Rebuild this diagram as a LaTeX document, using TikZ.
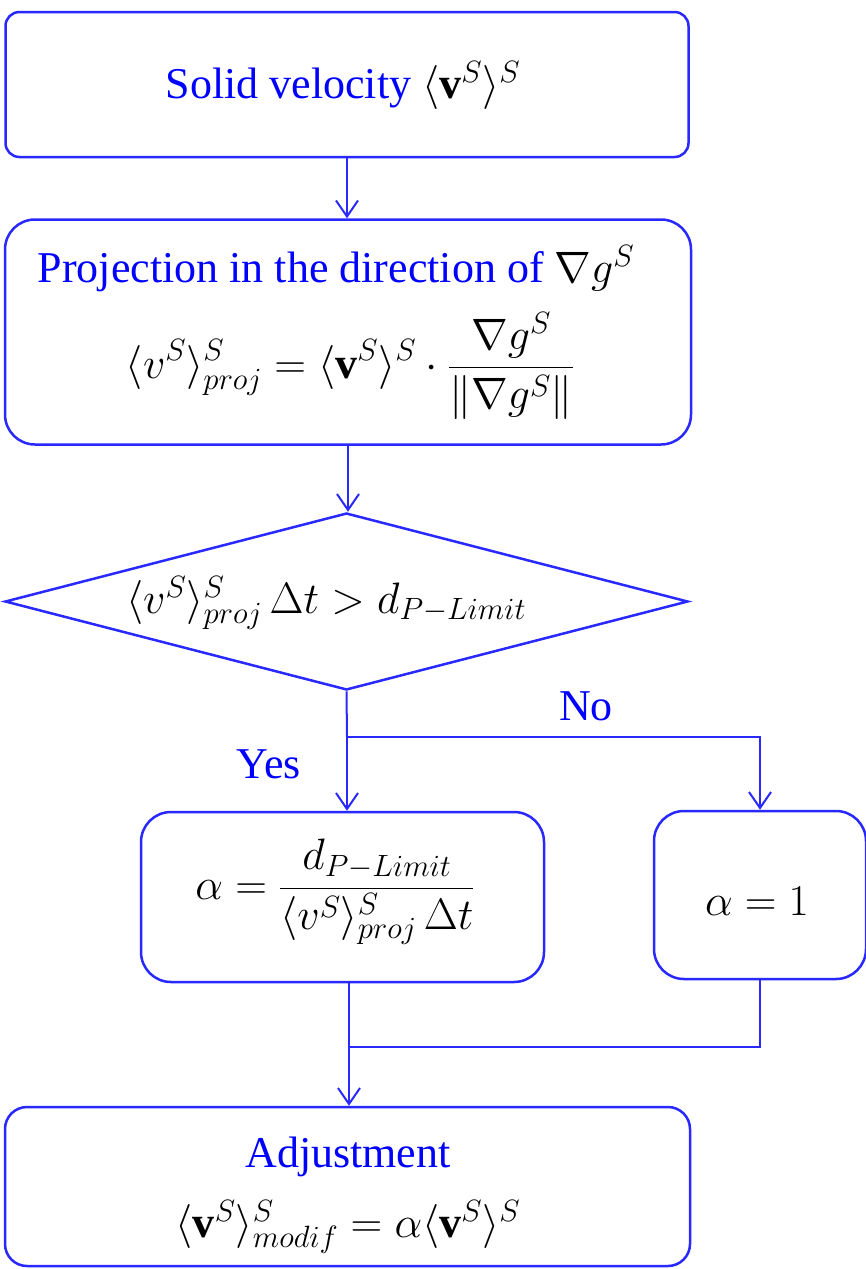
\RequirePackage{fix-cm}
\documentclass[tikz,border=0pt]{standalone}
\usepackage{amsmath}
\usepackage{fontspec}
\setmainfont{Liberation Serif}
\usetikzlibrary{arrows.meta,shapes.geometric}
\definecolor{lineblue}{RGB}{40,40,255}
\definecolor{txtblue}{RGB}{0,0,255}
\begin{document}
\begin{tikzpicture}[x=1pt,y=-1pt,
  box/.style={draw=lineblue, line width=2.5pt, fill=white, inner sep=0pt},
  arr/.style={draw=lineblue, line width=2pt, -{Straight Barb[length=16pt,width=22pt,line width=2pt]}},
  ln/.style={draw=lineblue, line width=2pt},
  lbl/.style={text=txtblue, font=\fontsize{44}{50}\selectfont, inner sep=0pt},
  mth/.style={text=black, font=\fontsize{44}{50}\selectfont, inner sep=0pt}]
\useasboundingbox (0,0) rectangle (865,1269);
% boxes
\node[box, rounded corners=14pt, minimum width=683pt, minimum height=145pt] (b1) at (347,84.5) {};
\node[box, rounded corners=30pt, minimum width=686pt, minimum height=225pt] (b2) at (348,332) {};
\node[box, diamond, aspect=3.86, minimum width=683pt, minimum height=177pt] (d) at (346.5,601.5) {};
\node[box, rounded corners=30pt, minimum width=403pt, minimum height=170pt] (b3) at (342.5,897) {};
\node[box, rounded corners=30pt, minimum width=212pt, minimum height=168pt] (b4) at (760,895) {};
\node[box, rounded corners=22pt, minimum width=685pt, minimum height=159pt] (b5) at (347.5,1186.5) {};
% texts
\node[lbl, anchor=base] (t1) at (343,98) {Solid velocity \textcolor{black}{$\langle\mathbf{v}^S\rangle^S$}};
\node[lbl, anchor=base] (t2) at (336,282) {Projection in the direction of \textcolor{black}{$\nabla g^S$}};
\node[mth] (f2) at (350,366) {$\displaystyle \langle v^S\rangle^S_{proj} = \langle\mathbf{v}^S\rangle^S\cdot\frac{\nabla g^S}{\|\nabla g^S\|}$};
\node[mth, anchor=base] (fd) at (326,613) {$\langle v^S\rangle^S_{proj}\,\Delta t > d_{P-Limit}$};
\node[mth] (f3) at (335,892) {$\displaystyle \alpha=\frac{d_{P-Limit}}{\langle v^S\rangle^S_{proj}\,\Delta t}$};
\node[mth, anchor=base] (f4) at (757,915) {$\alpha=1$};
\node[lbl, anchor=base] (t5) at (348,1167) {Adjustment};
\node[mth, anchor=base] (f5) at (348,1237) {$\langle\mathbf{v}^S\rangle^S_{modif}=\alpha\langle\mathbf{v}^S\rangle^S$};
\node[lbl, anchor=base] (no) at (586,720) {No};
\node[lbl, anchor=base] (yes) at (269,778) {Yes};
% connectors
\draw[arr] (b1.south) -- (b1.south |- b2.north);
\draw[arr] (b2.south) -- (b2.south |- d.north);
\coordinate (split) at (347,737);
\draw[ln] (d.south) -- (split);
\draw[arr] (split) -- (split |- b3.north);
\draw[arr] (split) -- (split -| b4.north) -- (b4.north);
\coordinate (merge) at (349,1047);
\draw[ln] (merge |- b3.south) -- (merge);
\draw[ln] (b4.south) -- (b4.south |- merge) -- (merge);
\draw[arr] (merge) -- (merge |- b5.north);
\end{tikzpicture}
\end{document}
